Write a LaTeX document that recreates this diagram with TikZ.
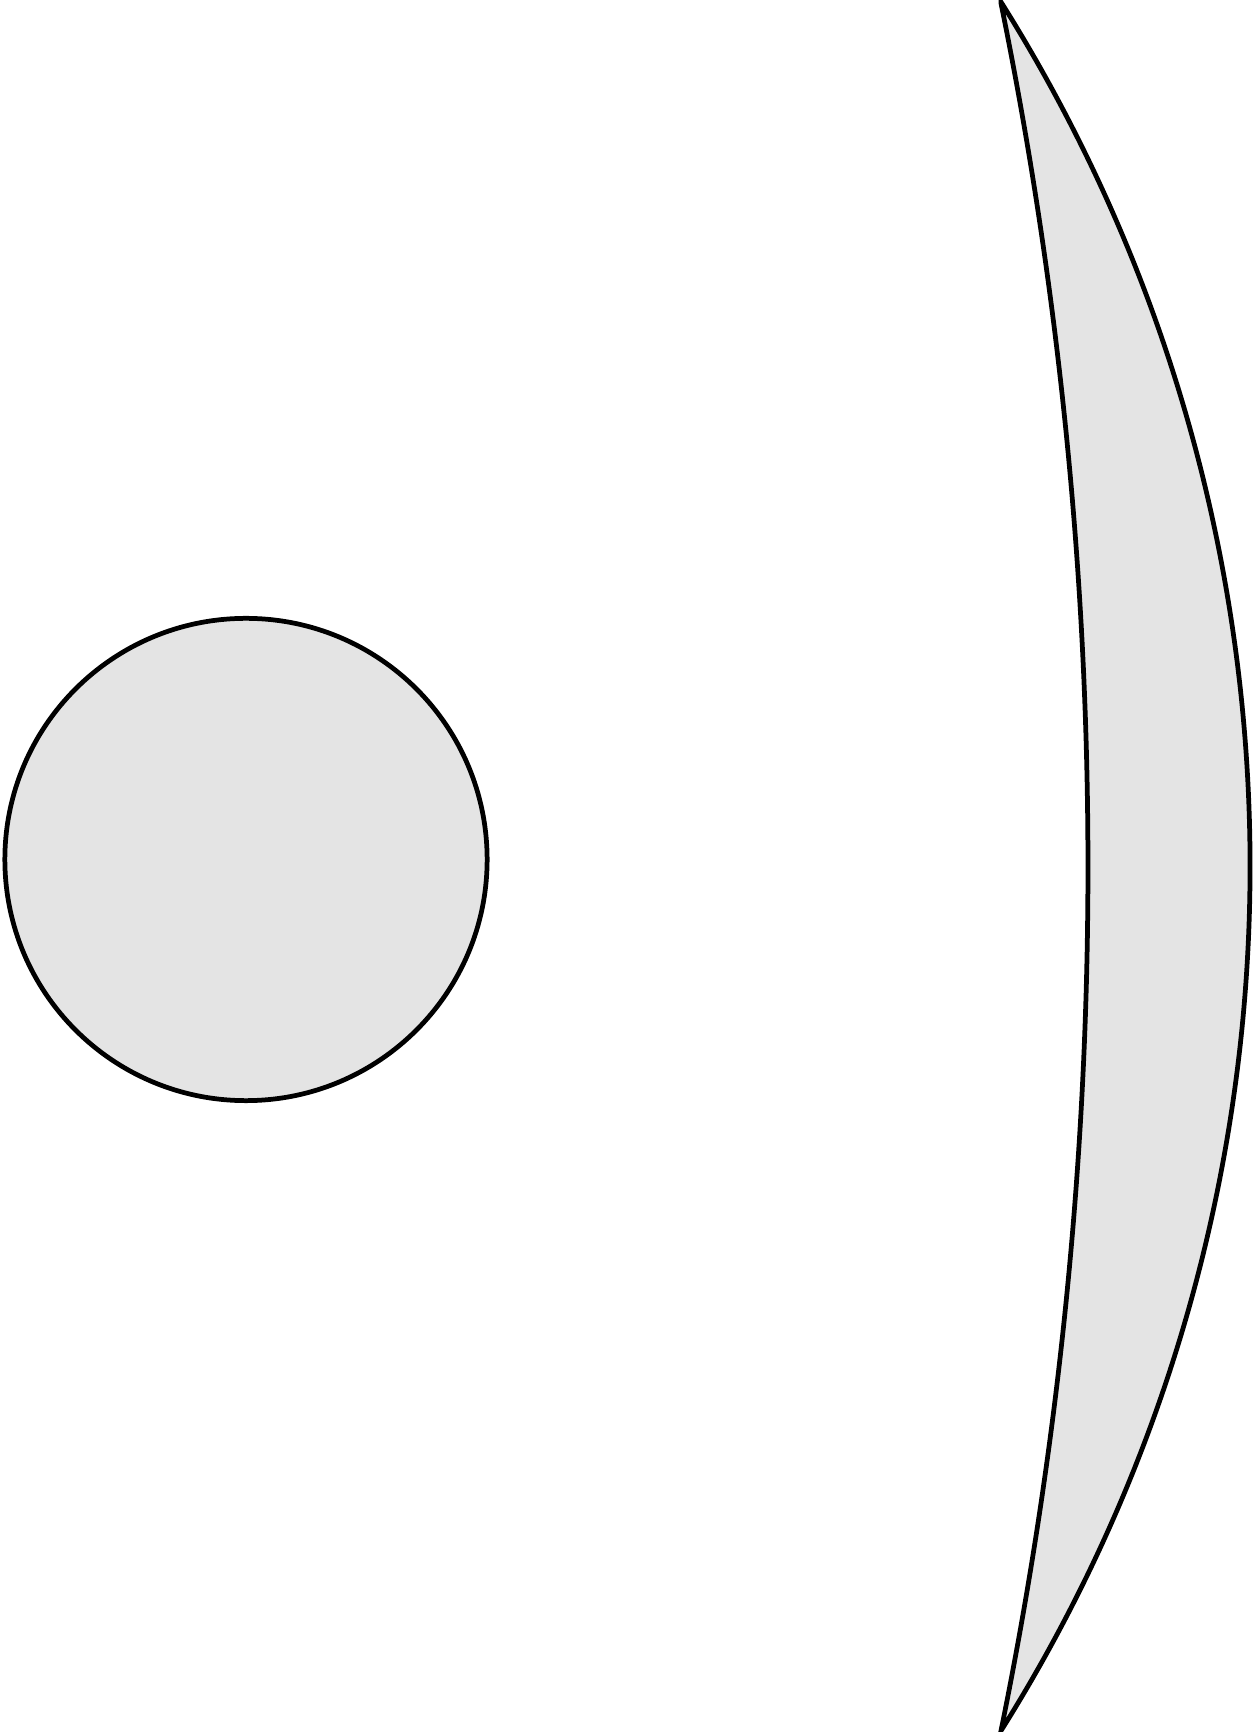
\documentclass[tikz,border=0pt]{standalone}
\definecolor{shade}{RGB}{228,228,228}
\tikzset{solidpart/.style={draw=black, fill=shade, line width=1.35pt, line join=miter}}
\begin{document}
\begin{tikzpicture}[x=0.01cm, y=0.01cm]
\useasboundingbox (0,0) rectangle (1255,1732);
% sphere
\node[solidpart, circle, minimum size=4.82cm, inner sep=0pt] (ball) at (246,872.5) {};
% crescent lens
\coordinate (top) at (1001,1730);
\coordinate (bot) at (1000,2);
\filldraw[solidpart] (top) arc[start angle=32.15, end angle=-32.15, radius=16.235cm]
  arc[start angle=-11.5, end angle=11.5, radius=43.3cm] -- cycle;
\end{tikzpicture}
\end{document}
